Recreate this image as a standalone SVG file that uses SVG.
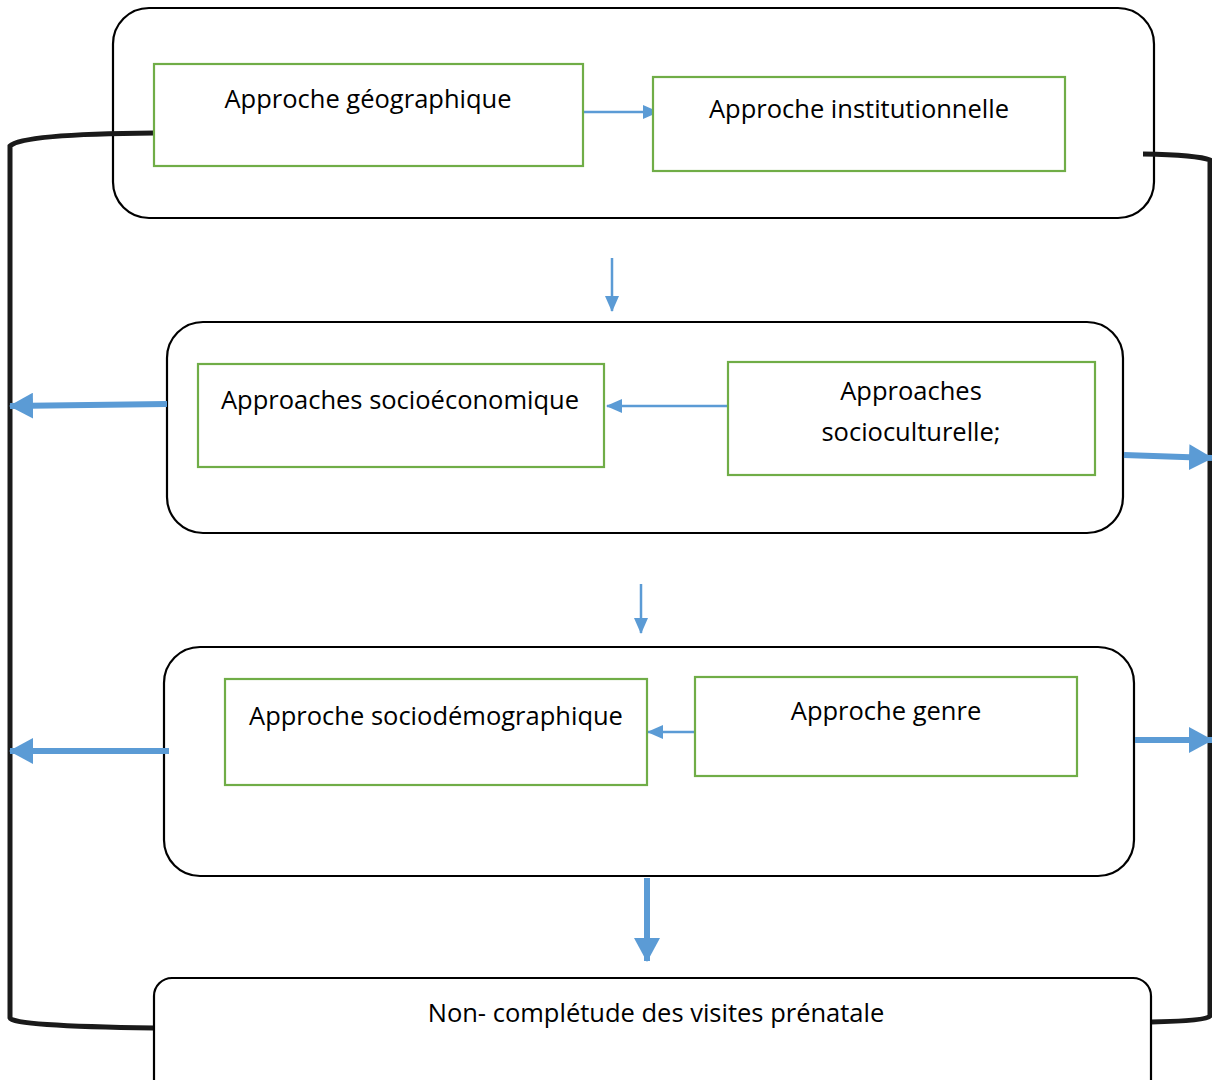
<svg xmlns="http://www.w3.org/2000/svg" width="1212" height="1080" viewBox="0 0 1212 1080">
<style>
.box{fill:#fff;stroke:#000;stroke-width:2.2}
.g{fill:#fff;stroke:#70AD47;stroke-width:2.2}
.t{font-family:"Open Sans","Liberation Sans",Arial,sans-serif;font-size:25.5px;fill:#000;text-anchor:middle}
.thin{stroke:#5B9BD5;stroke-width:2.5;fill:none}
.thick{stroke:#5B9BD5;stroke-width:6;fill:none}
.br{stroke:#1a1a1a;stroke-width:5;fill:none}
</style>
<defs>
<marker id="ah" markerUnits="userSpaceOnUse" markerWidth="16" markerHeight="16" viewBox="0 0 16 16" refX="15" refY="8" orient="auto"><path d="M0,1 L16,8 L0,15 Z" fill="#5B9BD5"/></marker>
<marker id="ahb" markerUnits="userSpaceOnUse" markerWidth="24" markerHeight="26" viewBox="0 0 24 26" refX="23" refY="13" orient="auto"><path d="M0,0 L24,13 L0,26 Z" fill="#5B9BD5"/></marker>
</defs>
<g id="box-top"><rect class="box" x="113" y="8" width="1041" height="210" rx="36"/></g>
<g id="box-mid"><rect class="box" x="167" y="322" width="956" height="211" rx="36"/></g>
<g id="box-low"><rect class="box" x="164" y="647" width="970" height="229" rx="36"/></g>
<g id="connectors">
<path class="br" d="M154,133 Q22,134 10,146 L10,1018 Q12,1026 154,1028"/>
<path class="br" d="M1143,154 Q1198,155 1210,160 L1210,1016 Q1206,1021 1151,1022"/>
<line class="thin" x1="582" y1="112" x2="658" y2="112" marker-end="url(#ah)"/>
<line class="thin" x1="612" y1="258" x2="612" y2="311" marker-end="url(#ah)"/>
<line class="thin" x1="728" y1="406" x2="607" y2="406" marker-end="url(#ah)"/>
<line class="thin" x1="641" y1="584" x2="641" y2="633" marker-end="url(#ah)"/>
<line class="thin" x1="695" y1="732" x2="648" y2="732" marker-end="url(#ah)"/>
<line class="thick" x1="167" y1="404" x2="10" y2="406" marker-end="url(#ahb)"/>
<line class="thick" x1="1124" y1="455" x2="1212" y2="458" marker-end="url(#ahb)"/>
<line class="thick" x1="169" y1="751" x2="10" y2="751" marker-end="url(#ahb)"/>
<line class="thick" x1="1135" y1="740" x2="1212" y2="740" marker-end="url(#ahb)"/>
<line class="thick" x1="647" y1="878" x2="647" y2="961" marker-end="url(#ahb)"/>
</g>
<g id="geo"><rect class="g" x="154" y="64" width="429" height="102"/><text class="t" x="368" y="108">Approche géographique</text></g>
<g id="inst"><rect class="g" x="653" y="77" width="412" height="94"/><text class="t" x="859" y="118">Approche institutionnelle</text></g>
<g id="socioeco"><rect class="g" x="198" y="364" width="406" height="103"/><text class="t" x="400" y="409">Approaches socioéconomique</text></g>
<g id="sociocult"><rect class="g" x="728" y="362" width="367" height="113"/><text class="t" x="911" y="400">Approaches</text><text class="t" x="911" y="441">socioculturelle;</text></g>
<g id="sociodemo"><rect class="g" x="225" y="679" width="422" height="106"/><text class="t" x="436" y="725">Approche sociodémographique</text></g>
<g id="genre"><rect class="g" x="695" y="677" width="382" height="99"/><text class="t" x="886" y="720">Approche genre</text></g>
<g id="result"><rect class="box" x="154" y="978" width="997" height="120" rx="18"/><text class="t" x="656" y="1022">Non- complétude des visites prénatale</text></g>
</svg>
